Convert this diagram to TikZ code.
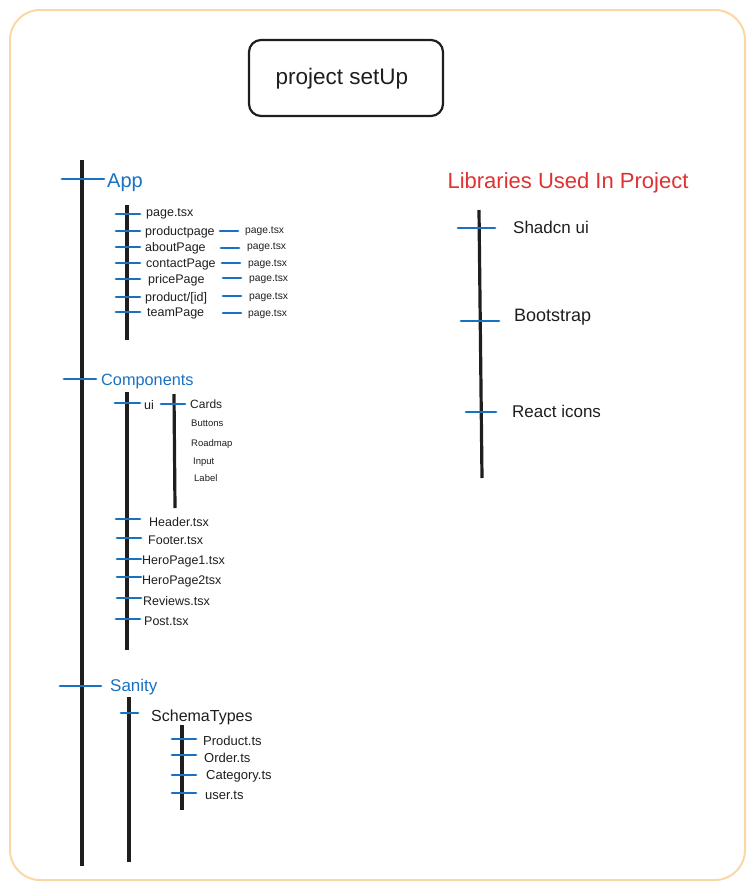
\documentclass[tikz,border=0pt]{standalone}
\usepackage{fontspec}
\setmainfont{Liberation Sans}
\definecolor{frameC}{HTML}{FBD7A6}
\definecolor{blueC}{HTML}{1971C2}
\definecolor{redC}{HTML}{E03131}
\definecolor{inkC}{HTML}{1E1E1E}
\tikzset{
  tick/.style={blueC, line width=2.8pt, line cap=round},
  stem/.style={inkC, line width=3.2pt},
  txt/.style={anchor=west, inner sep=0pt, text=inkC, yshift=-1.5pt},
  head/.style={anchor=west, inner sep=0pt, text=blueC, yshift=-1.5pt},
  fs12/.style={font=\fontsize{12.5}{14}\selectfont},
  fs10/.style={font=\fontsize{10.3}{12}\selectfont},
  fs9/.style={font=\fontsize{9.5}{11}\selectfont},
  fs17/.style={font=\fontsize{17}{19}\selectfont},
}
\begin{document}
\begin{tikzpicture}[x=1pt,y=-1pt]
\useasboundingbox (0,0) rectangle (754,889);
\draw[frameC, line width=2pt, rounded corners=30pt] (10,10) rectangle (745,880);
% title
\node[draw=inkC, line width=2.2pt, rounded corners=12pt, minimum width=194pt, minimum height=76pt, inner sep=0pt] (title) at (346,78) {};
\node[inner sep=0pt, font=\fontsize{22.5}{25}\selectfont, text=inkC] (tt) at (342,79) {project setUp};

% main stem
\coordinate (m1) at (82,160); \coordinate (m2) at (82,866);
\draw[stem] (m1) -- (m2);

% App
\draw[tick] (62,179) -- (104,179);
\node[head, font=\fontsize{20}{22}\selectfont] (app) at (107,181) {App};
\coordinate (a1) at (127,205); \coordinate (a2) at (127,340);
\draw[stem] (a1) -- (a2);
\foreach \y in {214,231,247,263,279,297,312}{
  \draw[tick] (116,\y) -- (140,\y);
}
\node[txt, fs12] (p0) at (146,212) {page.tsx};
\node[txt, fs12] (p1) at (145,231) {productpage};
\node[txt, fs12] (p2) at (145,247) {aboutPage};
\node[txt, fs12] (p3) at (146,263) {contactPage};
\node[txt, fs12] (p4) at (148,279) {pricePage};
\node[txt, fs12] (p5) at (145,297) {product/[id]};
\node[txt, fs12] (p6) at (147,312) {teamPage};
\draw[tick] (220,231) -- (238,231);
\draw[tick] (221,248) -- (239,248);
\draw[tick] (222,263) -- (240,263);
\draw[tick] (223,278) -- (241,278);
\draw[tick] (223,296) -- (241,296);
\draw[tick] (223,313) -- (241,313);
\node[txt, fs10] (q1) at (245,230) {page.tsx};
\node[txt, fs10] (q2) at (247,246) {page.tsx};
\node[txt, fs10] (q3) at (248,263) {page.tsx};
\node[txt, fs10] (q4) at (249,278) {page.tsx};
\node[txt, fs10] (q5) at (249,296) {page.tsx};
\node[txt, fs10] (q6) at (248,313) {page.tsx};

% Components
\draw[tick] (64,379) -- (96,379);
\node[head, font=\fontsize{16.3}{18}\selectfont] (comp) at (101,380) {Components};
\coordinate (c1) at (127,392); \coordinate (c2) at (127,650);
\draw[stem] (c1) -- (c2);
\draw[tick] (115,403) -- (140,403);
\node[txt, fs12] (ui) at (144,404) {ui};
\coordinate (u1) at (174,394); \coordinate (u2) at (175,508);
\draw[stem] (u1) -- (u2);
\draw[tick] (161,404) -- (185,404);
\node[txt, font=\fontsize{12}{14}\selectfont] (cards) at (190,403) {Cards};
\node[txt, fs9] (btn) at (191,422) {Buttons};
\node[txt, fs9] (road) at (191,443) {Roadmap};
\node[txt, fs9] (inp) at (193,461) {Input};
\node[txt, fs9] (lab) at (194,477) {Label};
\draw[tick] (116,519) -- (140,519);
\draw[tick] (117,538) -- (141,538);
\draw[tick] (117,559) -- (141,559);
\draw[tick] (117,577) -- (141,577);
\draw[tick] (117,598) -- (141,598);
\draw[tick] (116,619) -- (140,619);
\node[txt, fs12] (hdr) at (149,521) {Header.tsx};
\node[txt, fs12] (ftr) at (148,539) {Footer.tsx};
\node[txt, fs12] (h1) at (142,560) {HeroPage1.tsx};
\node[txt, fs12] (h2) at (142,580) {HeroPage2tsx};
\node[txt, fs12] (rev) at (143,600) {Reviews.tsx};
\node[txt, fs12] (post) at (144,620) {Post.tsx};

% Sanity
\draw[tick] (60,686) -- (101,686);
\node[head, fs17] (san) at (110,686) {Sanity};
\coordinate (s1) at (129,697); \coordinate (s2) at (129,862);
\draw[stem] (s1) -- (s2);
\draw[tick] (121,713) -- (138,713);
\node[txt, font=\fontsize{16}{18}\selectfont] (schema) at (151,716) {SchemaTypes};
\coordinate (t1) at (182,725); \coordinate (t2) at (182,810);
\draw[stem] (t1) -- (t2);
\draw[tick] (172,739) -- (196,739);
\draw[tick] (172,755) -- (196,755);
\draw[tick] (172,775) -- (196,775);
\draw[tick] (172,793) -- (196,793);
\node[txt, font=\fontsize{13}{15}\selectfont] (prod) at (203,739) {Product.ts};
\node[txt, font=\fontsize{13}{15}\selectfont] (ord) at (204,756) {Order.ts};
\node[txt, font=\fontsize{13}{15}\selectfont] (cat) at (206,775) {Category.ts};
\node[txt, font=\fontsize{13}{15}\selectfont] (usr) at (205,794) {user.ts};

% Libraries
\node[anchor=center, inner sep=0pt, text=redC, font=\fontsize{22}{25}\selectfont] (lib) at (568,183) {Libraries Used In Project};
\coordinate (l1) at (479,210); \coordinate (l2) at (482,478);
\draw[stem] (l1) -- (l2);
\draw[tick] (458,228) -- (495,228);
\draw[tick] (461,321) -- (499,321);
\draw[tick] (466,412) -- (496,412);
\node[txt, fs17] (shad) at (513,226) {Shadcn ui};
\node[txt, font=\fontsize{18}{20}\selectfont] (boot) at (514,316) {Bootstrap};
\node[txt, fs17] (react) at (512,410) {React icons};
\end{tikzpicture}
\end{document}
